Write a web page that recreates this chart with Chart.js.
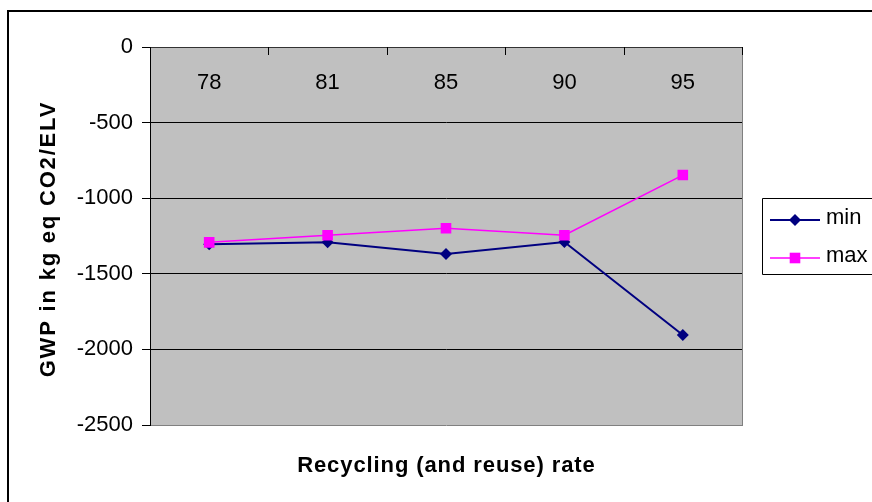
<!DOCTYPE html>
<html>
<head>
<meta charset="utf-8">
<script src="https://cdn.jsdelivr.net/npm/chart.js@4/dist/chart.umd.min.js"></script>
<style>
  html, body { margin: 0; padding: 0; background: #fff; overflow: hidden; }
  #wrap { position: relative; width: 872px; height: 502px; }
</style>
</head>
<body>
<div id="wrap"><canvas id="c" width="872" height="502"></canvas></div>
<script>
const categories = ['78', '81', '85', '90', '95'];
const minValues = [-1305, -1292, -1369, -1290, -1905];
const maxValues = [-1292, -1245, -1199, -1245, -847];
const yTicks = [0, -500, -1000, -1500, -2000, -2500];
const seriesNames = ['min', 'max'];
const xTitle = 'Recycling (and reuse) rate';
const yTitle = 'GWP in kg eq CO2/ELV';

const FONT = "'Liberation Sans', Arial, sans-serif";

function spacedText(ctx, text, x, y, spacing) {
  // centered text with extra letter spacing
  ctx.letterSpacing = spacing + 'px';
  const w = ctx.measureText(text).width;
  ctx.textAlign = 'left';
  ctx.fillText(text, x - (w - spacing) / 2, y);
  ctx.letterSpacing = '0px';
}

const decor = {
  id: 'decor',
  beforeDraw(chart) {
    const ctx = chart.ctx;
    const a = chart.chartArea;
    ctx.save();
    ctx.fillStyle = '#ffffff';
    ctx.fillRect(0, 0, chart.width, chart.height);
    ctx.fillStyle = '#000000';
    ctx.fillRect(7, 10, 2, chart.height - 10);
    ctx.fillRect(7, 10, chart.width - 7, 2);
    ctx.fillStyle = '#C0C0C0';
    ctx.fillRect(a.left, a.top, a.right - a.left, a.bottom - a.top);
    ctx.restore();
  },
  beforeDatasetsDraw(chart) {
    const ctx = chart.ctx;
    const a = chart.chartArea;
    const xs = chart.scales.x;
    ctx.save();
    ctx.strokeStyle = '#808080';
    ctx.lineWidth = 1;
    ctx.beginPath();
    ctx.moveTo(Math.round(a.right) + 0.5, a.top);
    ctx.lineTo(Math.round(a.right) + 0.5, a.bottom + 1);
    ctx.stroke();
    ctx.strokeStyle = '#333333';
    ctx.beginPath();
    ctx.moveTo(a.left, Math.round(a.top) + 0.5);
    ctx.lineTo(a.right, Math.round(a.top) + 0.5);
    ctx.stroke();
    const n = categories.length;
    const step = xs.getPixelForValue(1) - xs.getPixelForValue(0);
    ctx.strokeStyle = '#000000';
    ctx.beginPath();
    for (let i = 0; i <= n; i++) {
      const px = Math.round(xs.getPixelForValue(i) - step / 2) + 0.5;
      ctx.moveTo(px, a.top);
      ctx.lineTo(px, a.top + 8);
    }
    ctx.stroke();
    ctx.fillStyle = '#000000';
    ctx.font = '22px ' + FONT;
    ctx.textAlign = 'center';
    ctx.textBaseline = 'middle';
    categories.forEach((c, i) => {
      ctx.fillText(c, xs.getPixelForValue(i), 83);
    });
    ctx.restore();
  },
  afterDraw(chart) {
    const ctx = chart.ctx;
    const a = chart.chartArea;
    ctx.save();
    // axis titles
    ctx.fillStyle = '#000000';
    ctx.font = 'bold 22px ' + FONT;
    ctx.textBaseline = 'middle';
    spacedText(ctx, xTitle, (a.left + a.right) / 2, 466, 0.9);
    ctx.save();
    ctx.translate(49, 240);
    ctx.rotate(-Math.PI / 2);
    spacedText(ctx, yTitle, 0, 0, 1.8);
    ctx.restore();
    // legend box
    ctx.strokeStyle = '#000000';
    ctx.lineWidth = 1;
    ctx.beginPath();
    ctx.moveTo(880, 198.5);
    ctx.lineTo(762.5, 198.5);
    ctx.lineTo(762.5, 274.5);
    ctx.lineTo(880, 274.5);
    ctx.stroke();
    const rows = [220, 258];
    chart.data.datasets.slice().sort((p, q) => seriesNames.indexOf(p.label) - seriesNames.indexOf(q.label)).forEach((ds, i) => {
      const y = rows[i];
      ctx.strokeStyle = ds.borderColor;
      ctx.lineWidth = ds.borderWidth;
      ctx.beginPath();
      ctx.moveTo(770, y);
      ctx.lineTo(820, y);
      ctx.stroke();
      ctx.fillStyle = ds.backgroundColor;
      ctx.beginPath();
      if (ds.pointStyle === 'rectRot') {
        const r = ds.pointRadius;
        ctx.moveTo(795 - r, y);
        ctx.lineTo(795, y - r);
        ctx.lineTo(795 + r, y);
        ctx.lineTo(795, y + r);
        ctx.closePath();
      } else {
        const s = ds.pointRadius * Math.SQRT1_2;
        ctx.rect(795 - s, y - s, 2 * s, 2 * s);
      }
      ctx.fill();
      ctx.fillStyle = '#000000';
      ctx.font = '22px ' + FONT;
      ctx.textAlign = 'left';
      ctx.textBaseline = 'middle';
      ctx.fillText(ds.label, 826, y - 2);
    });
    ctx.restore();
  }
};

new Chart(document.getElementById('c'), {
  type: 'line',
  data: {
    labels: categories,
    datasets: [
      {
        label: seriesNames[0],
        data: minValues,
        borderColor: '#000080',
        backgroundColor: '#000080',
        borderWidth: 2,
        pointStyle: 'rectRot',
        pointRadius: 6,
        pointHoverRadius: 6,
        pointBorderWidth: 0,
        tension: 0,
        order: 1
      },
      {
        label: seriesNames[1],
        data: maxValues,
        borderColor: '#FF00FF',
        backgroundColor: '#FF00FF',
        borderWidth: 1.5,
        pointStyle: 'rect',
        pointRadius: 7.5,
        pointHoverRadius: 7.5,
        pointBorderWidth: 0,
        tension: 0,
        order: 0
      }
    ]
  },
  options: {
    responsive: false,
    animation: false,
    events: [],
    layout: { padding: { left: 0, right: 130, top: 47, bottom: 0 } },
    plugins: {
      legend: { display: false },
      tooltip: { enabled: false }
    },
    scales: {
      x: {
        type: 'category',
        position: 'bottom',
        offset: true,
        grid: { display: false, drawTicks: false },
        border: { display: false },
        ticks: { display: false },
        title: { display: false, text: xTitle },
        afterFit(s) { s.height = 77; }
      },
      y: {
        min: -2500,
        max: 0,
        afterBuildTicks(s) { s.ticks = yTicks.map(v => ({ value: v })); },
        grid: {
          color: (c) => (c.tick && c.tick.value === -2500 ? '#808080' : (c.tick && c.tick.value === 0 ? '#333333' : '#000000')),
          lineWidth: 1,
          tickLength: 8,
          tickColor: '#000000',
          drawTicks: true
        },
        border: { display: true, color: '#000000', width: 1 },
        ticks: {
          color: '#000',
          padding: 9,
          font: { family: FONT, size: 22 },
          callback: (v) => String(v)
        },
        title: { display: false, text: yTitle },
        afterFit(s) { s.width = 150; }
      }
    }
  },
  plugins: [decor]
});
</script>
</body>
</html>
